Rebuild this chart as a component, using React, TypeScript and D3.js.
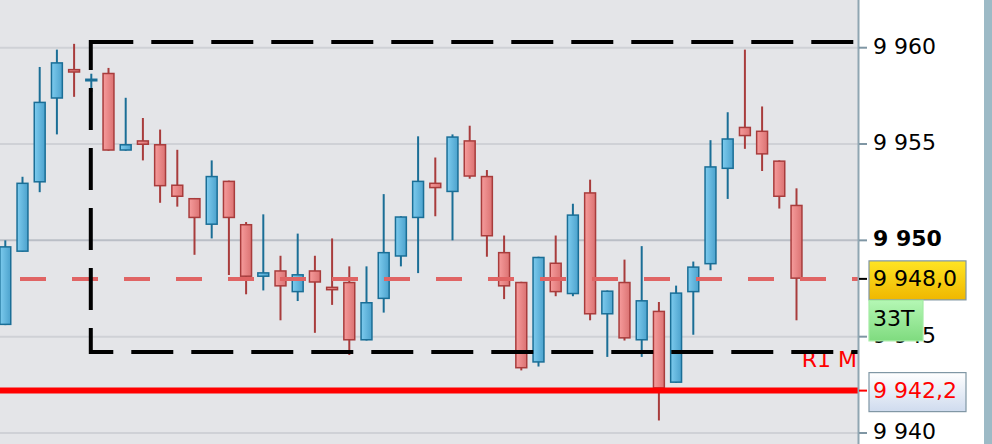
import React, { useEffect, useRef } from 'react';
import * as d3 from 'd3';

// candle values (oldest first)
const opens = [
  9945.6, 9949.4, 9953.0, 9957.35, 9958.9, 9958.3, 9958.7, 9954.65, 9955.2, 9955.0,
  9952.9, 9952.2, 9950.8, 9953.1, 9950.85, 9948.1, 9948.45, 9947.3, 9948.45, 9947.6,
  9947.85, 9944.8, 9946.95, 9949.15, 9951.15, 9953.0, 9952.5, 9955.2, 9953.35, 9949.4,
  9947.85, 9943.65, 9948.85, 9947.2, 9952.5, 9946.15, 9947.85, 9944.8, 9946.35, 9942.6,
  9947.3, 9948.75, 9953.7, 9955.9, 9955.7, 9954.15, 9951.85,
];
const highs = [
  9950.0, 9953.3, 9959.0, 9959.9, 9960.2, 9958.65, 9958.95, 9957.4, 9956.35, 9955.75,
  9954.7, 9952.2, 9954.15, 9953.1, 9950.95, 9951.35, 9949.2, 9950.35, 9949.2, 9950.1,
  9948.65, 9948.65, 9952.4, 9951.25, 9955.4, 9954.3, 9955.5, 9955.95, 9953.65, 9950.25,
  9947.85, 9949.15, 9950.25, 9951.9, 9953.15, 9947.4, 9949.0, 9949.7, 9946.8, 9947.65,
  9948.9, 9955.2, 9956.65, 9959.9, 9956.95, 9954.15, 9952.7,
];
const lows = [
  9945.6, 9949.4, 9952.5, 9955.5, 9957.45, 9957.7, 9954.65, 9954.65, 9954.15, 9951.95,
  9951.75, 9949.25, 9950.1, 9948.2, 9947.2, 9947.4, 9945.85, 9946.85, 9945.2, 9946.65,
  9944.05, 9944.8, 9946.25, 9948.65, 9948.3, 9951.25, 9950.0, 9953.2, 9949.15, 9946.95,
  9943.25, 9943.45, 9947.1, 9947.1, 9945.85, 9943.95, 9944.8, 9943.95, 9940.65, 9942.6,
  9945.1, 9948.45, 9952.15, 9954.75, 9953.6, 9951.65, 9945.85,
];
const closes = [
  9949.7, 9953.0, 9957.2, 9959.25, 9958.7, 9958.4, 9954.65, 9955.0, 9954.95, 9952.8,
  9952.25, 9951.15, 9953.35, 9951.15, 9948.1, 9948.35, 9947.6, 9948.25, 9947.8, 9947.4,
  9944.8, 9946.8, 9949.4, 9951.25, 9953.1, 9952.7, 9955.4, 9953.3, 9950.2, 9947.6,
  9943.35, 9949.15, 9947.3, 9951.35, 9946.15, 9947.4, 9944.9, 9946.9, 9942.3, 9947.3,
  9948.65, 9953.85, 9955.3, 9955.4, 9954.45, 9952.25, 9948.0,
];

const priceDomain = [9940, 9960];
const lastPrice = 9948.0;
const tickCountLabel = '33T';
const r1Level = 9942.2;
const r1Label = 'R1 M';
// range box: first bar index, upper and lower edge
const boxStart = 5;
const boxHigh = 9960.3;
const boxLow = 9944.2;

const W = 992;
const H = 444;
const plotRight = 859;
const FONT = '"DejaVu Sans", sans-serif';

const fmt = d3.formatLocale({ decimal: ',', thousands: ' ', grouping: [3], currency: ['', ''] });
const fmtTick = fmt.format(',d');
const fmtPrice = fmt.format(',.1f');

export default function App() {
  const ref = useRef<SVGSVGElement>(null);

  useEffect(() => {
    if (!ref.current) return;
    const svg = d3.select(ref.current);
    svg.selectAll('*').remove();

    const y = d3.scaleLinear().domain(priceDomain).range([433, 47.7]);
    const x = d3.scaleLinear().domain([0, closes.length - 1]).range([5.3, 796.5]);
    const bodyW = 12.4;

    const defs = svg.append('defs');
    const grad = (id: string, stops: [string, string], vertical = false) => {
      const g = defs.append('linearGradient').attr('id', id)
        .attr('x1', 0).attr('y1', 0).attr('x2', vertical ? 0 : 1).attr('y2', vertical ? 1 : 0);
      g.append('stop').attr('offset', '0%').attr('stop-color', stops[0]);
      g.append('stop').attr('offset', '100%').attr('stop-color', stops[1]);
    };
    grad('upFill', ['#7dcbee', '#4ca2cd']);
    grad('downFill', ['#f69c9c', '#db7272']);
    grad('lastFill', ['#ffe423', '#efb700'], true);
    grad('ticksFill', ['#b4f7b4', '#7fdb7f'], true);
    grad('r1Fill', ['#ffffff', '#cfdbee'], true);
    defs.append('clipPath').attr('id', 'plotClip')
      .append('rect').attr('x', 0).attr('y', 0).attr('width', plotRight).attr('height', H);

    // backgrounds
    svg.append('rect').attr('width', W).attr('height', H).attr('fill', '#ffffff');
    svg.append('rect').attr('width', plotRight).attr('height', H).attr('fill', '#e4e5e8');
    svg.append('rect').attr('x', 984).attr('width', 8).attr('height', H).attr('fill', '#9dbac6');

    const ticks = y.ticks(5);
    const plot = svg.append('g').attr('clip-path', 'url(#plotClip)');

    // 1) GRID
    plot.selectAll('line.grid')
      .data(ticks)
      .enter()
      .append('line')
      .attr('class', 'grid')
      .attr('x1', 0).attr('x2', plotRight)
      .attr('y1', d => y(d)).attr('y2', d => y(d))
      .attr('stroke', d => (d % 50 === 0 ? '#babec6' : '#cfd1d6'))
      .attr('stroke-width', 2);

    plot.append('text')
      .attr('x', 857).attr('y', y(boxLow) + 15)
      .attr('text-anchor', 'end')
      .attr('font-family', FONT).attr('font-size', 22)
      .attr('fill', '#ff0000')
      .text(r1Label);

    // 2) CANDLES
    const candles = plot.selectAll('g.candle')
      .data(closes.map((c, i) => ({ i, o: opens[i], h: highs[i], l: lows[i], c })))
      .enter()
      .append('g')
      .attr('class', 'candle');

    const edge = (d: { o: number; c: number }) => (d.c >= d.o ? '#1a6e96' : '#a83c3c');

    candles.append('line')
      .attr('x1', d => x(d.i)).attr('x2', d => x(d.i))
      .attr('y1', d => y(d.h)).attr('y2', d => y(d.l))
      .attr('stroke', edge)
      .attr('stroke-width', 2);

    candles.append('rect')
      .attr('x', d => x(d.i) - bodyW / 2 + 0.75)
      .attr('y', d => y(Math.max(d.o, d.c)) + 0.75)
      .attr('width', bodyW - 1.5)
      .attr('height', d => Math.max(y(Math.min(d.o, d.c)) - y(Math.max(d.o, d.c)) - 1.5, 1.5))
      .attr('fill', d => (d.c >= d.o ? 'url(#upFill)' : 'url(#downFill)'))
      .attr('stroke', edge)
      .attr('stroke-width', 1.5);

    // 3) LAST PRICE LINE
    plot.append('line')
      .attr('x1', 0).attr('x2', plotRight)
      .attr('y1', y(lastPrice)).attr('y2', y(lastPrice))
      .attr('stroke', '#e06464')
      .attr('stroke-width', 4)
      .attr('stroke-dasharray', '26 26')
      .attr('stroke-dashoffset', 32);

    // 4) RANGE BOX
    const bx = x(boxStart);
    const boxLine = (x1: number, y1: number, x2: number, y2: number, off: number) =>
      plot.append('line')
        .attr('x1', x1).attr('y1', y1).attr('x2', x2).attr('y2', y2)
        .attr('stroke', '#000000')
        .attr('stroke-width', 4)
        .attr('stroke-dasharray', '42 18')
        .attr('stroke-dashoffset', off);
    boxLine(bx - 2, y(boxHigh), plotRight, y(boxHigh), -2);
    boxLine(bx - 0.5, y(boxHigh) - 2, bx - 0.5, y(boxLow) + 2, 12);
    boxLine(bx - 2, y(boxLow), plotRight, y(boxLow), 18);

    // 5) R1 LEVEL
    plot.append('line')
      .attr('x1', 0).attr('x2', plotRight)
      .attr('y1', y(r1Level)).attr('y2', y(r1Level))
      .attr('stroke', '#ff0000')
      .attr('stroke-width', 6);

    // 6) AXIS
    svg.append('line')
      .attr('x1', plotRight - 0.5).attr('x2', plotRight - 0.5)
      .attr('y1', 0).attr('y2', H)
      .attr('stroke', '#8fa6b2').attr('stroke-width', 2);

    svg.selectAll('line.tick')
      .data(ticks)
      .enter()
      .append('line')
      .attr('class', 'tick')
      .attr('x1', plotRight).attr('x2', 867)
      .attr('y1', d => y(d)).attr('y2', d => y(d))
      .attr('stroke', '#7f96a4').attr('stroke-width', 2);

    svg.selectAll('text.tick')
      .data(ticks)
      .enter()
      .append('text')
      .attr('class', 'tick')
      .attr('x', 873)
      .attr('y', d => y(d) + 6)
      .attr('font-family', FONT).attr('font-size', 22)
      .attr('font-weight', d => (d % 50 === 0 ? 'bold' : 'normal'))
      .attr('fill', '#000000')
      .text(d => fmtTick(d));

    const label = (val: number, fill: string, textFill: string, stroke: string, tick: string) => {
      const cy = y(val) + 1.5;
      svg.append('line')
        .attr('x1', plotRight).attr('x2', 867)
        .attr('y1', y(val)).attr('y2', y(val))
        .attr('stroke', tick).attr('stroke-width', 2);
      svg.append('rect')
        .attr('x', 869).attr('y', cy - 19.5)
        .attr('width', 97).attr('height', 39)
        .attr('fill', fill).attr('stroke', stroke).attr('stroke-width', 1.2);
      svg.append('text')
        .attr('x', 873).attr('y', cy + 6)
        .attr('font-family', FONT).attr('font-size', 22)
        .attr('fill', textFill)
        .text(fmtPrice(val));
      return cy;
    };

    const lastY = label(lastPrice, 'url(#lastFill)', '#000000', '#7f96a4', '#000000');
    svg.append('rect')
      .attr('x', 869).attr('y', lastY + 20)
      .attr('width', 54).attr('height', 40.5)
      .attr('fill', 'url(#ticksFill)').attr('stroke', '#a4ecA4').attr('stroke-width', 1.2);
    svg.append('text')
      .attr('x', 873).attr('y', lastY + 46)
      .attr('font-family', FONT).attr('font-size', 22)
      .attr('fill', '#000000')
      .text(tickCountLabel);

    label(r1Level, 'url(#r1Fill)', '#ff0000', '#7f96a4', '#ff0000');
  }, []);

  return (
    <svg
      ref={ref}
      width={W}
      height={H}
      style={{ position: 'absolute', left: 0, top: 0, display: 'block' }}
    />
  );
}
